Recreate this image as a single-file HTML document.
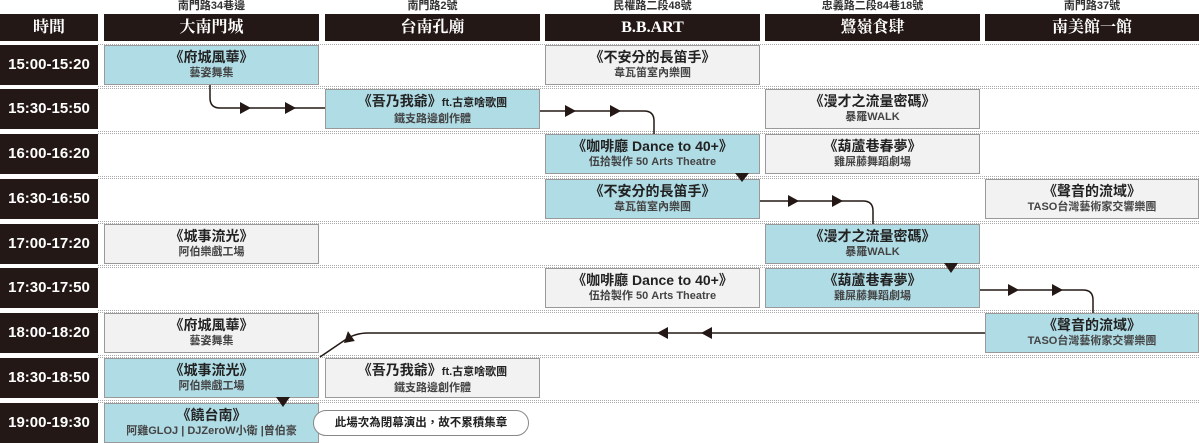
<!DOCTYPE html>
<html><head><meta charset="utf-8"><style>
*{margin:0;padding:0;box-sizing:border-box}
body{width:1199px;height:443px;background:#fff;position:relative;overflow:hidden;font-family:"Liberation Sans","Noto Sans CJK TC",sans-serif}
.a{position:absolute}
.addr{position:absolute;top:0;height:13px;font-size:11px;font-weight:bold;color:#333;text-align:center;line-height:13px}
.hd{position:absolute;top:14px;height:27px;background:#231815;color:#fff;font-family:"Liberation Serif","Noto Serif CJK SC",serif;font-weight:bold;font-size:16px;text-align:center;line-height:27px}
.tm{position:absolute;left:0;width:98px;height:40px;background:#231815;color:#fff;font-weight:bold;font-size:15px;text-align:center;line-height:40px}
.c{position:absolute;height:40px;border:1px solid #999;text-align:center;color:#222;font-weight:bold}
.b{background:#b0dce5}.g{background:#f2f2f2}
.c .t{font-size:14px;line-height:18px;margin-top:2px}
.c .s{font-size:11px;line-height:15px;color:#444}
.dl{position:absolute;left:98px;width:1101px;border-top:1px dotted #aaa;height:0}
.note{position:absolute;left:313px;top:410px;width:216px;height:26px;border:1px solid #888;border-radius:13px;background:#fff;font-size:11.5px;font-weight:bold;text-align:center;line-height:24px;color:#222}
</style></head><body>
<div class="addr" style="left:104px;width:215px">南門路34巷邊</div>
<div class="addr" style="left:325px;width:215px">南門路2號</div>
<div class="addr" style="left:545px;width:215px">民權路二段48號</div>
<div class="addr" style="left:765px;width:215px">忠義路二段84巷18號</div>
<div class="addr" style="left:985px;width:214px">南門路37號</div>
<div class="hd" style="left:0;width:98px">時間</div>
<div class="hd" style="left:104px;width:215px">大南門城</div>
<div class="hd" style="left:325px;width:215px">台南孔廟</div>
<div class="hd" style="left:545px;width:215px">B.B.ART</div>
<div class="hd" style="left:765px;width:215px">鷺嶺食肆</div>
<div class="hd" style="left:985px;width:214px">南美館一館</div>

<div class="dl" style="top:44px"></div><div class="dl" style="top:86px"></div>
<div class="dl" style="top:88px"></div><div class="dl" style="top:131px"></div>
<div class="dl" style="top:133px"></div><div class="dl" style="top:176px"></div>
<div class="dl" style="top:178px"></div><div class="dl" style="top:221px"></div>
<div class="dl" style="top:223px"></div><div class="dl" style="top:265px"></div>
<div class="dl" style="top:267px"></div><div class="dl" style="top:310px"></div>
<div class="dl" style="top:312px"></div><div class="dl" style="top:355px"></div>
<div class="dl" style="top:357px"></div><div class="dl" style="top:400px"></div>
<div class="dl" style="top:402px"></div>

<div class="tm" style="top:45px">15:00-15:20</div>
<div class="tm" style="top:89px">15:30-15:50</div>
<div class="tm" style="top:134px">16:00-16:20</div>
<div class="tm" style="top:179px">16:30-16:50</div>
<div class="tm" style="top:224px">17:00-17:20</div>
<div class="tm" style="top:268px">17:30-17:50</div>
<div class="tm" style="top:313px">18:00-18:20</div>
<div class="tm" style="top:358px">18:30-18:50</div>
<div class="tm" style="top:403px">19:00-19:30</div>

<div class="c b" style="left:104px;top:45px;width:215px"><div class="t">《府城風華》</div><div class="s">藝姿舞集</div></div>
<div class="c g" style="left:545px;top:45px;width:215px"><div class="t">《不安分的長笛手》</div><div class="s">韋瓦笛室內樂團</div></div>

<div class="c b" style="left:325px;top:89px;width:215px"><div class="t">《吾乃我爺》<span style="font-size:11px">ft.古意啥歌團</span></div><div class="s">鐵支路邊創作體</div></div>
<div class="c g" style="left:765px;top:89px;width:215px"><div class="t">《漫才之流量密碼》</div><div class="s">暴羅WALK</div></div>

<div class="c b" style="left:545px;top:134px;width:215px"><div class="t">《咖啡廳 Dance to 40+》</div><div class="s">伍拾製作 50 Arts Theatre</div></div>
<div class="c g" style="left:765px;top:134px;width:215px"><div class="t">《葫蘆巷春夢》</div><div class="s">雞屎藤舞蹈劇場</div></div>

<div class="c b" style="left:545px;top:179px;width:215px"><div class="t">《不安分的長笛手》</div><div class="s">韋瓦笛室內樂團</div></div>
<div class="c g" style="left:985px;top:179px;width:214px"><div class="t">《聲音的流域》</div><div class="s">TASO台灣藝術家交響樂團</div></div>

<div class="c g" style="left:104px;top:224px;width:215px"><div class="t">《城事流光》</div><div class="s">阿伯樂戲工場</div></div>
<div class="c b" style="left:765px;top:224px;width:215px"><div class="t">《漫才之流量密碼》</div><div class="s">暴羅WALK</div></div>

<div class="c g" style="left:545px;top:268px;width:215px"><div class="t">《咖啡廳 Dance to 40+》</div><div class="s">伍拾製作 50 Arts Theatre</div></div>
<div class="c b" style="left:765px;top:268px;width:215px"><div class="t">《葫蘆巷春夢》</div><div class="s">雞屎藤舞蹈劇場</div></div>

<div class="c g" style="left:104px;top:313px;width:215px"><div class="t">《府城風華》</div><div class="s">藝姿舞集</div></div>
<div class="c b" style="left:985px;top:313px;width:214px"><div class="t">《聲音的流域》</div><div class="s">TASO台灣藝術家交響樂團</div></div>

<div class="c b" style="left:104px;top:358px;width:215px"><div class="t">《城事流光》</div><div class="s">阿伯樂戲工場</div></div>
<div class="c g" style="left:325px;top:358px;width:215px"><div class="t">《吾乃我爺》<span style="font-size:11px">ft.古意啥歌團</span></div><div class="s">鐵支路邊創作體</div></div>

<div class="c b" style="left:104px;top:403px;width:215px"><div class="t">《饒台南》</div><div class="s">阿雞GLOJ | DJZeroW小衛 |曾伯豪</div></div>

<svg class="a" style="left:0;top:0" width="1199" height="443">
<g fill="none" stroke="#231815" stroke-width="1.5">
<path d="M210 85 V98 Q210 108 220 108 H325"/>
<path d="M540 111 H644 Q654 111 654 121 V134"/>
<path d="M760 201 H863 Q873 201 873 211 V224"/>
<path d="M980 290 H1083 Q1093 290 1093 300 V313"/>
<path d="M985 333 H368 Q355 333 345 340 L320 357"/>
</g>
<g fill="#231815">
<polygon points="240,102 251,108 240,114"/><polygon points="285,102 296,108 285,114"/>
<polygon points="565,105 576,111 565,117"/><polygon points="610,105 621,111 610,117"/>
<polygon points="788,195 799,201 788,207"/><polygon points="832,195 843,201 832,207"/>
<polygon points="1008,284 1019,290 1008,296"/><polygon points="1052,284 1063,290 1052,296"/>
<polygon points="668,327 657,333 668,339"/><polygon points="712,327 701,333 712,339"/>
<polygon points="349,331 354,342 343,342" transform="rotate(-10 349 337)"/>
<polygon points="735,173 749,173 742,182"/>
<polygon points="944,263 958,263 951,273"/>
<polygon points="276,397 290,397 283,407"/>
</g>
</svg>
<div class="note">此場次為閉幕演出，故不累積集章</div>
</body></html>
